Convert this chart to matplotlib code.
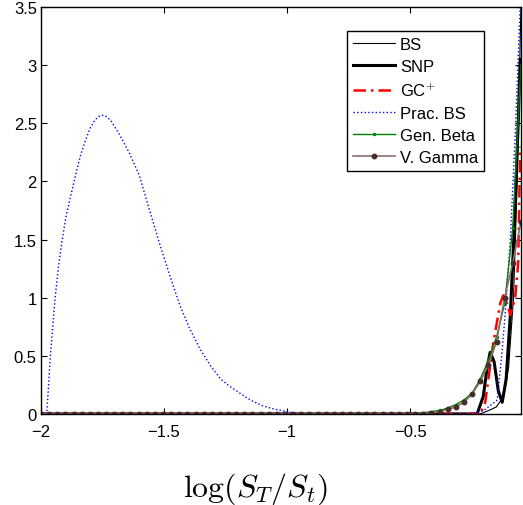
import numpy as np
import matplotlib
matplotlib.use('Agg')
import matplotlib.pyplot as plt

plt.rcParams['font.family'] = 'Liberation Sans'
plt.rcParams['mathtext.fontset'] = 'cm'

# BS (thin black)
bs_x = [-2.0, -0.23, -0.215, -0.18, -0.15, -0.12, -0.1, -0.08, -0.065, -0.05]
bs_y = [0.0, 0.0, 0.0, 0.03, 0.06, 0.15, 0.4, 1.0, 2.0, 3.5]

# SNP (thick black)
snp_x = [-2.0, -0.228, -0.203, -0.187, -0.175, -0.159, -0.142, -0.126, -0.11, -0.093, -0.077, -0.061, -0.053]
snp_y = [0.0, 0.0, 0.15, 0.4, 0.53, 0.45, 0.2, 0.10, 0.3, 0.85, 1.6, 2.5, 3.05]

# GC+ (red dash-dot)
gc_x = [-2.0, -0.215, -0.195, -0.163, -0.134, -0.122, -0.106, -0.093, -0.073, -0.061, -0.053]
gc_y = [0.0, 0.0, 0.1, 0.6, 0.95, 1.02, 0.95, 0.85, 1.0, 1.3, 2.3]

# Prac. BS (blue dotted)
pbs_x = [-2.0, -1.985, -1.976, -1.97, -1.963, -1.953, -1.943, -1.93, -1.915, -1.9, -1.882,
         -1.86, -1.84, -1.82, -1.80, -1.78, -1.765, -1.752, -1.735, -1.715, -1.68, -1.64,
         -1.6, -1.56, -1.516, -1.475, -1.435, -1.395, -1.354, -1.31, -1.27, -1.235, -1.2,
         -1.15, -1.1, -1.05, -1.0, -0.95, -0.25, -0.2, -0.146,
         -0.126, -0.114, -0.093, -0.073, -0.053]
pbs_y = [0.0, 0.0, 0.02, 0.22, 0.47, 0.73, 0.99, 1.25, 1.48, 1.68, 1.85,
         2.05, 2.22, 2.35, 2.46, 2.53, 2.56, 2.57, 2.56, 2.52, 2.4, 2.24,
         2.05, 1.76, 1.45, 1.18, 0.93, 0.73, 0.56, 0.41, 0.30, 0.24, 0.19,
         0.12, 0.07, 0.04, 0.02, 0.0, 0.0, 0.03, 0.12,
         0.55, 0.86, 1.5, 2.4, 3.5]

# grid shared by Gen. Beta and V. Gamma (60 points from -2 to -0.05)
grid_x = np.linspace(-2.0, -0.05, 60)

# Gen. Beta (green, small markers)
gb_y = [0.0] * 47 + [0.01, 0.02, 0.03, 0.05, 0.08, 0.12, 0.18, 0.3, 0.46, 0.66, 0.95, 1.6, 3.0]

# V. Gamma (brown, dot markers)
vg_y = [0.0] * 48 + [0.01, 0.02, 0.04, 0.06, 0.10, 0.17, 0.28, 0.42, 0.62, 1.0, 1.3, 1.65]

fig = plt.figure(figsize=(5.23, 5.06), dpi=100)
ax = fig.add_axes([0.0784, 0.18, 0.9176, 0.804])

ax.plot(bs_x, bs_y, color='black', lw=0.8, label='BS')
ax.plot(snp_x, snp_y, color='black', lw=2.2, label='SNP')
ax.plot(gc_x, gc_y, color='red', lw=1.8, linestyle='-.', dashes=(5, 2, 1, 2), label='GC$^{+}$')
ax.plot(pbs_x, pbs_y, color='blue', lw=1.0, linestyle=':', label='Prac. BS')
ax.plot(grid_x, gb_y, color='green', lw=1.0, marker='.', markersize=3, label='Gen. Beta')
ax.plot(grid_x, vg_y, color='#8a6e6e', lw=1.2, marker='o', markersize=3.2,
        markerfacecolor='#4a2c2c', markeredgecolor='#4a2c2c', label='V. Gamma')

ax.set_xlim(-2, -0.05)
ax.set_ylim(0, 3.5)
ax.set_xticks([-2, -1.5, -1, -0.5])
ax.set_xticklabels(['\u22122', '\u22121.5', '\u22121', '\u22120.5'])
ax.set_yticks([0, 0.5, 1, 1.5, 2, 2.5, 3, 3.5])
ax.set_yticklabels(['0', '0.5', '1', '1.5', '2', '2.5', '3', '3.5'])
ax.tick_params(direction='in', top=True, right=True, labelsize=12, length=4)
ax.tick_params(axis='x', pad=7)
ax.tick_params(axis='y', pad=3)
for s in ax.spines.values():
    s.set_linewidth(1.0)

ax.set_xlabel(r'$\log(S_T/S_t)$', fontsize=23, labelpad=14)
ax.xaxis.set_label_coords(0.446, -0.14)

leg = ax.legend(loc='upper right', bbox_to_anchor=(0.923, 0.941), fontsize=12,
                fancybox=False, framealpha=1, edgecolor='black', handlelength=2.5,
                borderpad=0.35, labelspacing=0.42, handletextpad=0.3, borderaxespad=0)
leg.get_frame().set_linewidth(1.0)

plt.savefig('out.png', dpi=100)
